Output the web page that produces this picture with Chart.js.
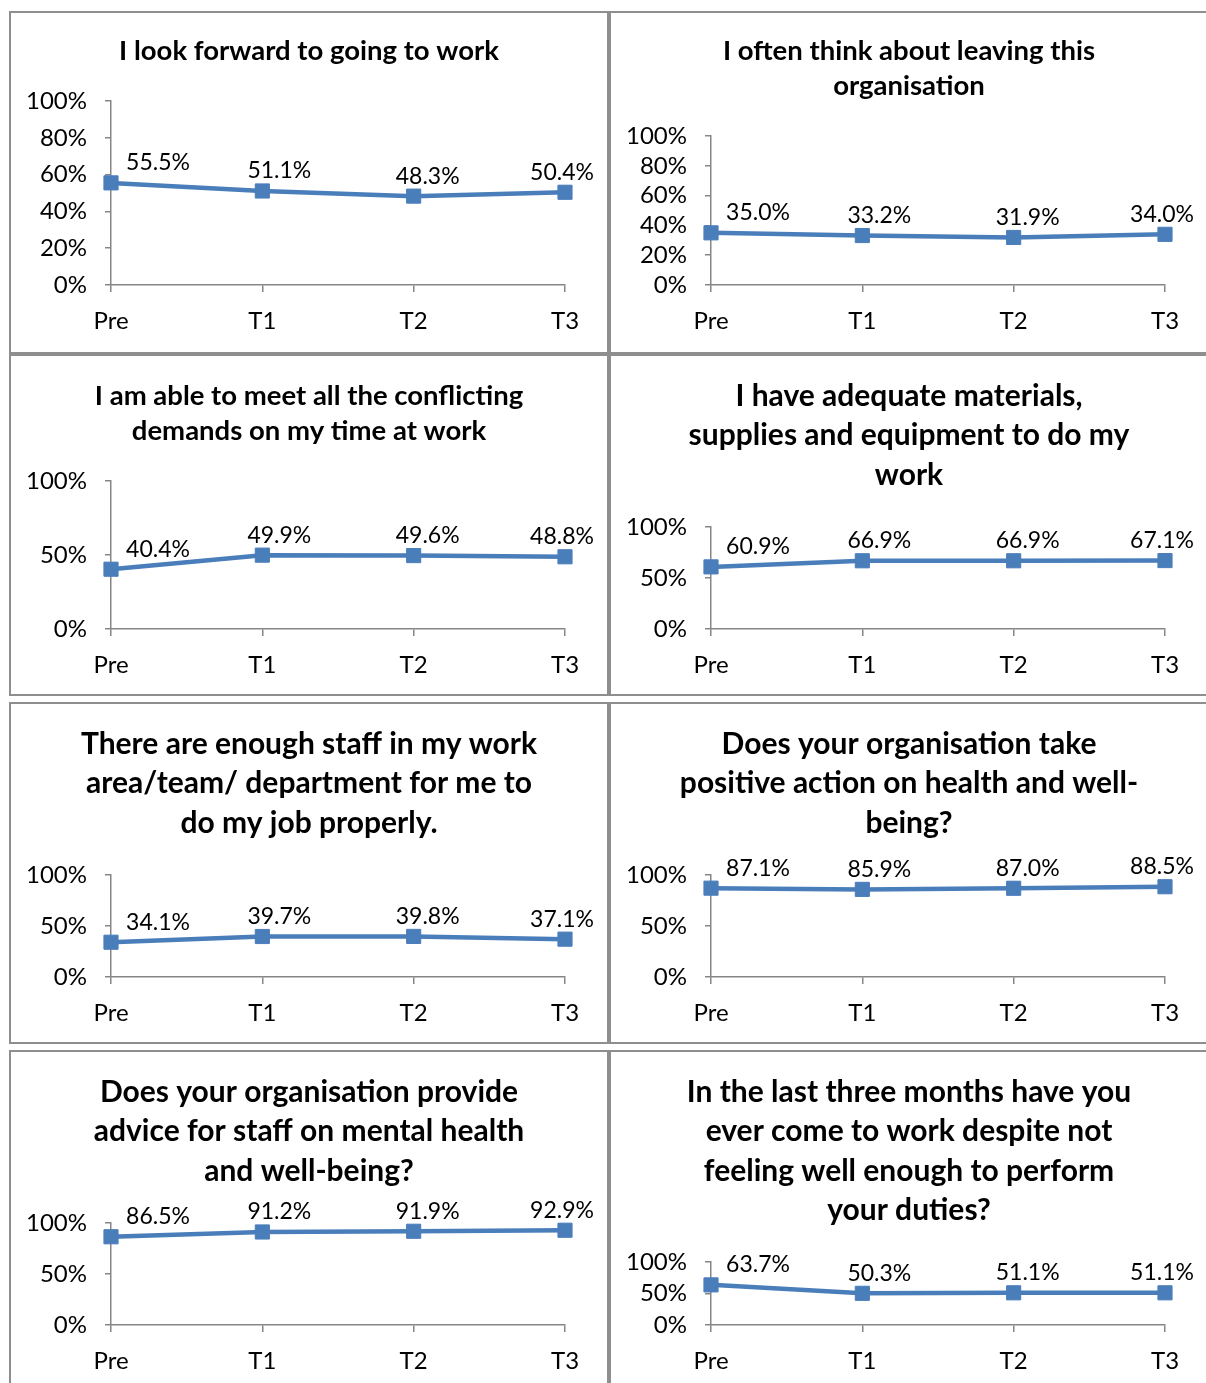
<!DOCTYPE html>
<html>
<head>
<meta charset="utf-8">
<script src="https://cdn.jsdelivr.net/npm/chart.js@4.4.1/dist/chart.umd.min.js"></script>
<style>
  body { margin: 0; background: #fff; width: 1206px; height: 1383px; overflow: hidden; position: relative; }
  .panel { position: absolute; box-sizing: border-box; border: 2px solid #8e8e8e; background: #fff; }
  .panel canvas { position: absolute; left: 0; top: 0; }
</style>
</head>
<body>
<script>
// categories shared by all panels
const categories = ["Pre", "T1", "T2", "T3"];

// series values (%)
const lookForward = [55.5, 51.1, 48.3, 50.4];
const thinkLeaving = [35.0, 33.2, 31.9, 34.0];
const conflictingDemands = [40.4, 49.9, 49.6, 48.8];
const adequateMaterials = [60.9, 66.9, 66.9, 67.1];
const enoughStaff = [34.1, 39.7, 39.8, 37.1];
const positiveAction = [87.1, 85.9, 87.0, 88.5];
const mentalHealthAdvice = [86.5, 91.2, 91.9, 92.9];
const presenteeism = [63.7, 50.3, 51.1, 51.1];

// titles
const title1 = ["I look forward to going to work"];
const title2 = ["I often think about leaving this", "organisation"];
const title3 = ["I am able to meet all the conflicting", "demands on my time at work"];
const title4 = ["I have adequate materials,", "supplies and equipment to do my", "work"];
const title5 = ["There are enough staff in my work", "area/team/ department for me to", "do my job properly."];
const title6 = ["Does your organisation take", "positive action on health and well-", "being?"];
const title7 = ["Does your organisation provide", "advice for staff on mental health", "and well-being?"];
const title8 = ["In the last three months have you", "ever come to work despite not", "feeling well enough to perform", "your duties?"];

// y tick steps
const stepFine = 20;
const stepCoarse = 50;

const FAMILY = "Lato, sans-serif";
const TICK_SIZE = 24;
const LABEL_SIZE = 23;
const TITLE_SMALL = 27.5;
const TITLE_BIG = 30;

const BLUE = "#4a7ebb";
const AXIS = "#868686";

const panels = [
  { title: title1, values: lookForward, step: stepFine, big: false, chartTop: 88 },
  { title: title2, values: thinkLeaving, step: stepFine, big: false, chartTop: 123 },
  { title: title3, values: conflictingDemands, step: stepCoarse, big: false, chartTop: 125 },
  { title: title4, values: adequateMaterials, step: stepCoarse, big: true, chartTop: 171 },
  { title: title5, values: enoughStaff, step: stepCoarse, big: true, chartTop: 171 },
  { title: title6, values: positiveAction, step: stepCoarse, big: true, chartTop: 171 },
  { title: title7, values: mentalHealthAdvice, step: stepCoarse, big: true, chartTop: 171 },
  { title: title8, values: presenteeism, step: stepCoarse, big: true, chartTop: 210 },
];

const colX = [9, 609];
const rowY = [11, 354, 702, 1050];
const rowH = [343, 342, 342, 342];

// label offsets from each point (Excel auto-placement, roughly)
const labelDx = [47, 17, 14, -3];
const labelDy = -20;

const pointLabels = {
  id: "pointLabels",
  afterDatasetsDraw(chart) {
    const ctx = chart.ctx;
    const meta = chart.getDatasetMeta(0);
    const vals = chart.data.datasets[0].data;
    ctx.save();
    ctx.font = LABEL_SIZE + "px " + FAMILY;
    ctx.fillStyle = "#000";
    ctx.textAlign = "center";
    ctx.textBaseline = "middle";
    meta.data.forEach((pt, i) => {
      ctx.fillText(vals[i].toFixed(1) + "%", pt.x + labelDx[i], pt.y + labelDy);
    });
    ctx.restore();
  }
};

panels.forEach((p, i) => {
  const col = i % 2, row = Math.floor(i / 2);
  const div = document.createElement("div");
  div.className = "panel";
  div.style.left = colX[col] + "px";
  div.style.top = rowY[row] + "px";
  div.style.width = "600px";
  div.style.height = rowH[row] + "px";
  document.body.appendChild(div);

  const W = 596, H = rowH[row] - 4;
  const canvas = document.createElement("canvas");
  canvas.width = W; canvas.height = H;
  canvas.style.width = W + "px"; canvas.style.height = H + "px";
  div.appendChild(canvas);

  const size = p.big ? TITLE_BIG : TITLE_SMALL;
  const L = p.big ? 39.5 : 35;
  const firstLine = row === 0 ? 38 : 40;
  const padTop = firstLine - L / 2;
  const padBottom = p.chartTop - padTop - p.title.length * L;
  const chartBottom = row === 0 ? 272 : 273;

  new Chart(canvas.getContext("2d"), {
    type: "line",
    data: {
      labels: categories,
      datasets: [{
        data: p.values,
        borderColor: BLUE,
        borderWidth: 4.5,
        backgroundColor: BLUE,
        pointStyle: "rect",
        pointRadius: 10,
        pointBorderWidth: 1,
        pointBackgroundColor: BLUE,
        pointBorderColor: BLUE,
        tension: 0,
        clip: false,
      }],
    },
    options: {
      responsive: false,
      animation: false,
      devicePixelRatio: 1,
      plugins: {
        legend: { display: false },
        tooltip: { enabled: false },
        title: {
          display: true,
          text: p.title,
          color: "#000",
          font: { family: FAMILY, size: size, weight: "bold", lineHeight: L / size },
          padding: { top: padTop, bottom: padBottom },
        },
      },
      scales: {
        x: {
          offset: false,
          grid: { drawOnChartArea: false, drawTicks: true, tickLength: 7, color: AXIS, lineWidth: 1.5 },
          border: { display: true, color: AXIS, width: 1.5 },
          ticks: { color: "#000", font: { family: FAMILY, size: TICK_SIZE }, padding: 15, maxRotation: 0, autoSkip: false },
          afterFit(s) { s.height = H - chartBottom; },
        },
        y: {
          min: 0,
          max: 100,
          grid: { drawOnChartArea: false, drawTicks: true, tickLength: 6, color: AXIS, lineWidth: 1.5 },
          border: { display: true, color: AXIS, width: 1.5 },
          ticks: {
            stepSize: p.step,
            autoSkip: false,
            color: "#000",
            font: { family: FAMILY, size: TICK_SIZE },
            padding: 18,
            callback: v => v + "%",
          },
          afterFit(s) { s.width = 100; },
        },
        // empty right-hand spacer so the title stays centred on the whole panel
        spacer: {
          type: "linear",
          position: "right",
          grid: { display: false },
          border: { display: false },
          ticks: { display: false },
          afterFit(s) { s.width = W - 554; },
        },
      },
    },
    plugins: [pointLabels],
  });
});
</script>
</body>
</html>
